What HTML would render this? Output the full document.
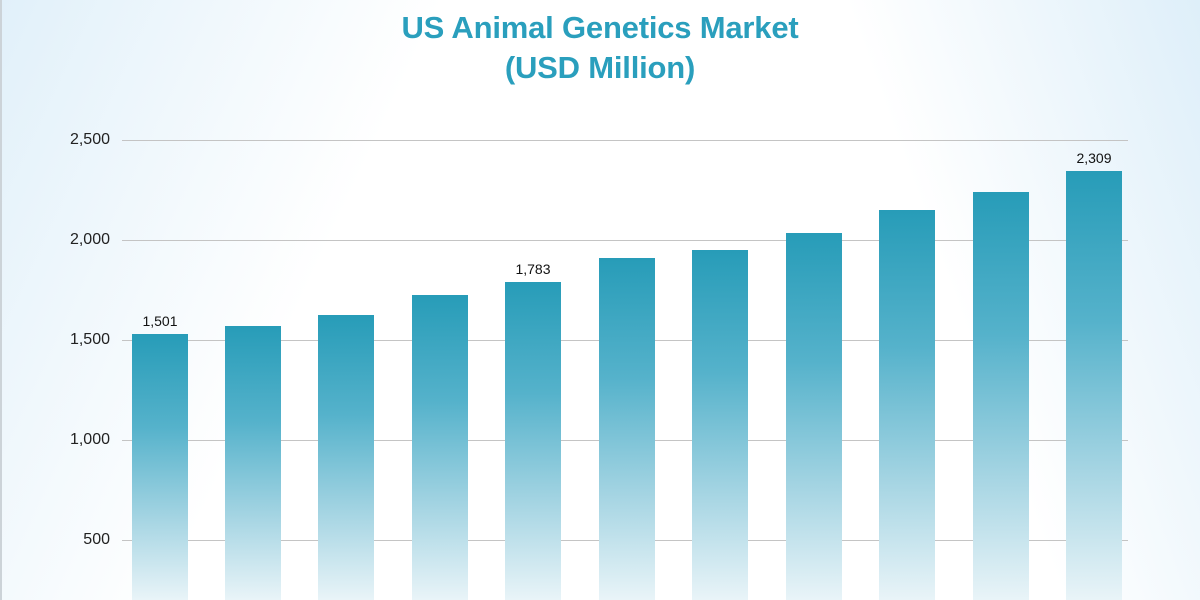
<!DOCTYPE html>
<html><head><style>
html,body{margin:0;padding:0}
body{width:1200px;height:600px;overflow:hidden;position:relative;background:#fff;font-family:"Liberation Sans",Arial,sans-serif}
.bg{position:absolute;inset:0;background:
linear-gradient(115deg,rgba(200,228,245,.55) 0%,rgba(255,255,255,0) 30%),
linear-gradient(250deg,rgba(200,228,245,.6) 0%,rgba(255,255,255,0) 25%);}
.title{position:absolute;left:0;width:1200px;top:8px;text-align:center;color:#2a9fbd;font-weight:bold;font-size:31px;line-height:40px;letter-spacing:-0.2px}
.grid{position:absolute;left:122px;width:1006px;height:1px;background:#c4c4c4}
.tick{position:absolute;right:1090px;font-size:16px;color:#222;transform:translateY(-9px)}
.bar{position:absolute;width:56px;bottom:0;background:linear-gradient(to bottom,#279cb8 0%,#55b2cb 35%,#a6d5e3 70%,#e9f4f8 100%)}
.lab{position:absolute;width:80px;text-align:center;font-size:14px;color:#111}
</style></head><body>
<div class="bg"></div>
<div style="position:absolute;left:0;top:0;width:2px;height:600px;background:#ccd3d8"></div>
<div class="title">US Animal Genetics Market<br>(USD Million)</div>
<div class="grid" style="top:140px"></div>
<div class="grid" style="top:240px"></div>
<div class="grid" style="top:340px"></div>
<div class="grid" style="top:440px"></div>
<div class="grid" style="top:540px"></div>
<div class="tick" style="top:140px">2,500</div>
<div class="tick" style="top:240px">2,000</div>
<div class="tick" style="top:340px">1,500</div>
<div class="tick" style="top:440px">1,000</div>
<div class="tick" style="top:540px">500</div>
<div class="bar" style="left:132px;top:334px"></div>
<div class="bar" style="left:225px;top:326px"></div>
<div class="bar" style="left:318px;top:315px"></div>
<div class="bar" style="left:412px;top:295px"></div>
<div class="bar" style="left:505px;top:282px"></div>
<div class="bar" style="left:599px;top:258px"></div>
<div class="bar" style="left:692px;top:250px"></div>
<div class="bar" style="left:786px;top:233px"></div>
<div class="bar" style="left:879px;top:210px"></div>
<div class="bar" style="left:973px;top:192px"></div>
<div class="bar" style="left:1066px;top:171px"></div>
<div class="lab" style="left:120px;top:313px">1,501</div>
<div class="lab" style="left:493px;top:261px">1,783</div>
<div class="lab" style="left:1054px;top:150px">2,309</div>
</body></html>
